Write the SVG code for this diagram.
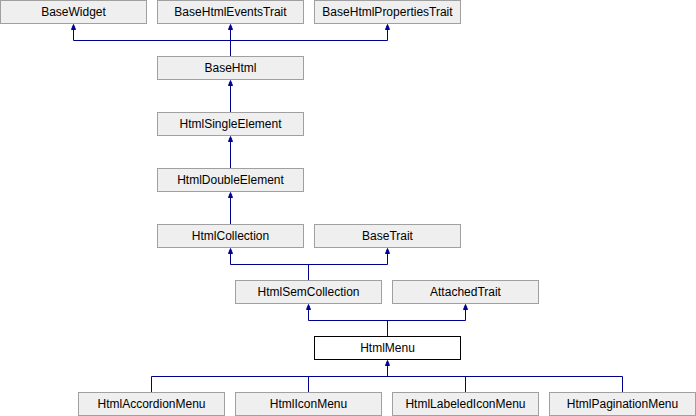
<svg xmlns="http://www.w3.org/2000/svg" width="696" height="416" viewBox="0 0 696 416">
<defs>
<style>
.n rect{fill:#efefef;stroke:#a0a0a0;stroke-width:1}
.n.cur rect{fill:#ffffff;stroke:#000000}
.n text{font-family:"Liberation Sans",Arial,sans-serif;font-size:12px;fill:#000;text-anchor:middle}
.e path{fill:none;stroke:#00008f;stroke-width:1}
.e path.a{fill:#00008f;stroke:#00008f}
</style>
</defs>
<rect width="696" height="416" fill="#ffffff"/>
<g class="e">
<path d="M230.5,56 V40.5 M73.5,40.5 H387.5 M73.5,40.5 V28 M387.5,40.5 V28 M230.5,40.5 V28"/>
<path class="a" d="M73.5,24.5 L71.5,29.5 H75.5 Z M230.5,24.5 L228.5,29.5 H232.5 Z M387.5,24.5 L385.5,29.5 H389.5 Z"/>
<path d="M230.5,112 V84"/>
<path class="a" d="M230.5,80.5 L228.5,85.5 H232.5 Z"/>
<path d="M230.5,168 V140"/>
<path class="a" d="M230.5,136.5 L228.5,141.5 H232.5 Z"/>
<path d="M230.5,224 V196"/>
<path class="a" d="M230.5,192.5 L228.5,197.5 H232.5 Z"/>
<path d="M308.5,280 V264.5 M230.5,264.5 H387.5 M230.5,264.5 V252 M387.5,264.5 V252"/>
<path class="a" d="M230.5,248.5 L228.5,253.5 H232.5 Z M387.5,248.5 L385.5,253.5 H389.5 Z"/>
<path d="M387.5,336 V320.5 M308.5,320.5 H465.5 M308.5,320.5 V308 M465.5,320.5 V308"/>
<path class="a" d="M308.5,304.5 L306.5,309.5 H310.5 Z M465.5,304.5 L463.5,309.5 H467.5 Z"/>
<path d="M151.5,392 V376.5 H622.5 V392 M308.5,376.5 V392 M465.5,376.5 V392 M387.5,376.5 V364"/>
<path class="a" d="M387.5,360.5 L385.5,365.5 H389.5 Z"/>
</g>
<g id="BaseWidget" class="n"><rect x="0.5" y="0.5" width="146" height="23"/><text x="73.5" y="16">BaseWidget</text></g>
<g id="BaseHtmlEventsTrait" class="n"><rect x="157.5" y="0.5" width="146" height="23"/><text x="230.5" y="16">BaseHtmlEventsTrait</text></g>
<g id="BaseHtmlPropertiesTrait" class="n"><rect x="314.5" y="0.5" width="146" height="23"/><text x="387.5" y="16">BaseHtmlPropertiesTrait</text></g>
<g id="BaseHtml" class="n"><rect x="157.5" y="56.5" width="146" height="23"/><text x="230.5" y="72">BaseHtml</text></g>
<g id="HtmlSingleElement" class="n"><rect x="157.5" y="112.5" width="146" height="23"/><text x="230.5" y="128">HtmlSingleElement</text></g>
<g id="HtmlDoubleElement" class="n"><rect x="157.5" y="168.5" width="146" height="23"/><text x="230.5" y="184">HtmlDoubleElement</text></g>
<g id="HtmlCollection" class="n"><rect x="157.5" y="224.5" width="146" height="23"/><text x="230.5" y="240">HtmlCollection</text></g>
<g id="BaseTrait" class="n"><rect x="314.5" y="224.5" width="146" height="23"/><text x="387.5" y="240">BaseTrait</text></g>
<g id="HtmlSemCollection" class="n"><rect x="235.5" y="280.5" width="146" height="23"/><text x="308.5" y="296">HtmlSemCollection</text></g>
<g id="AttachedTrait" class="n"><rect x="392.5" y="280.5" width="146" height="23"/><text x="465.5" y="296">AttachedTrait</text></g>
<g id="HtmlMenu" class="n cur"><rect x="314.5" y="336.5" width="146" height="23"/><text x="387.5" y="352">HtmlMenu</text></g>
<g id="HtmlAccordionMenu" class="n"><rect x="78.5" y="392.5" width="146" height="23"/><text x="151.5" y="408">HtmlAccordionMenu</text></g>
<g id="HtmlIconMenu" class="n"><rect x="235.5" y="392.5" width="146" height="23"/><text x="308.5" y="408">HtmlIconMenu</text></g>
<g id="HtmlLabeledIconMenu" class="n"><rect x="392.5" y="392.5" width="146" height="23"/><text x="465.5" y="408">HtmlLabeledIconMenu</text></g>
<g id="HtmlPaginationMenu" class="n"><rect x="549.5" y="392.5" width="146" height="23"/><text x="622.5" y="408">HtmlPaginationMenu</text></g>
</svg>
